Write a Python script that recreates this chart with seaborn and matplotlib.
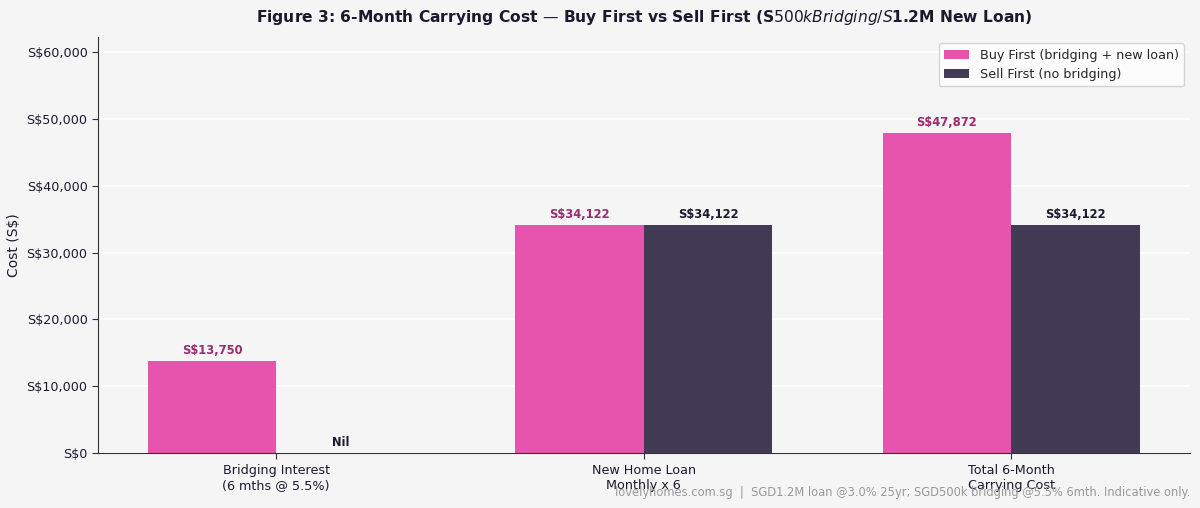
import numpy as np
import pandas as pd
import seaborn as sns
import matplotlib.pyplot as plt

categories = ["Bridging Interest\n(6 mths @ 5.5%)", "New Home Loan\nMonthly x 6", "Total 6-Month\nCarrying Cost"]
buy_first = [13750, 34122, 47872]
sell_first = [0, 34122, 34122]
series = ["Buy First (bridging + new loan)", "Sell First (no bridging)"]

df = pd.DataFrame({
    "category": categories * 2,
    "cost": buy_first + sell_first,
    "scenario": [series[0]] * 3 + [series[1]] * 3,
})

bg = "#f5f5f5"
navy = "#1a1a2e"
sns.set_style("whitegrid", {"axes.facecolor": bg, "figure.facecolor": bg,
                            "grid.color": "white", "axes.edgecolor": "#333333"})

fig = plt.figure(figsize=(12, 5.08), dpi=100)
ax = fig.add_axes([0.0817, 0.108, 0.91, 0.819])
sns.barplot(data=df, x="category", y="cost", hue="scenario",
            palette=["#e754ae", "#423b55"], alpha=1, width=0.7,
            saturation=1, ax=ax, edgecolor="none")

ax.set_xlim(-0.485, 2.487)
ax.set_ylim(0, max(buy_first) * 1.3)
ax.grid(axis="x", visible=False)
ax.grid(axis="y", color="white", linewidth=1.2)
ax.yaxis.set_major_formatter(plt.FuncFormatter(lambda v, p: f"S\\${v:,.0f}"))
ax.set_xlabel("")
ax.set_ylabel("Cost (S\\$)", fontsize=10, color=navy)
ax.tick_params(axis="both", labelsize=9.2, colors="#333333", labelcolor=navy, length=4, left=True, bottom=True)
for s in ["top", "right"]:
    ax.spines[s].set_visible(False)

label_colors = ["#9b2a6e", navy]
for i, cont in enumerate(ax.containers):
    for bar in cont:
        h = bar.get_height()
        txt = "Nil" if h == 0 else f"S\\${h:,.0f}"
        yy = h + 600 if h > 0 else 600
        ax.text(bar.get_x() + bar.get_width() / 2, yy, txt, ha="center", va="bottom",
                fontsize=8.3, fontweight="bold", color=label_colors[i])

ax.legend(loc="upper right", fontsize=9.2, frameon=True, facecolor="white",
          edgecolor="#cccccc", bbox_to_anchor=(1.0, 1.0))
ax.set_title("Figure 3: 6-Month Carrying Cost — Buy First vs Sell First (S$500k Bridging / S$1.2M New Loan)",
             fontsize=11.2, fontweight="bold", color=navy, pad=11)

fig.text(0.992, 0.018, "lovelyhomes.com.sg  |  SGD1.2M loan @3.0% 25yr; SGD500k bridging @5.5% 6mth. Indicative only.",
         ha="right", va="bottom", fontsize=8.3, color="#999999")

fig.savefig("out.png", dpi=100, facecolor=bg)
